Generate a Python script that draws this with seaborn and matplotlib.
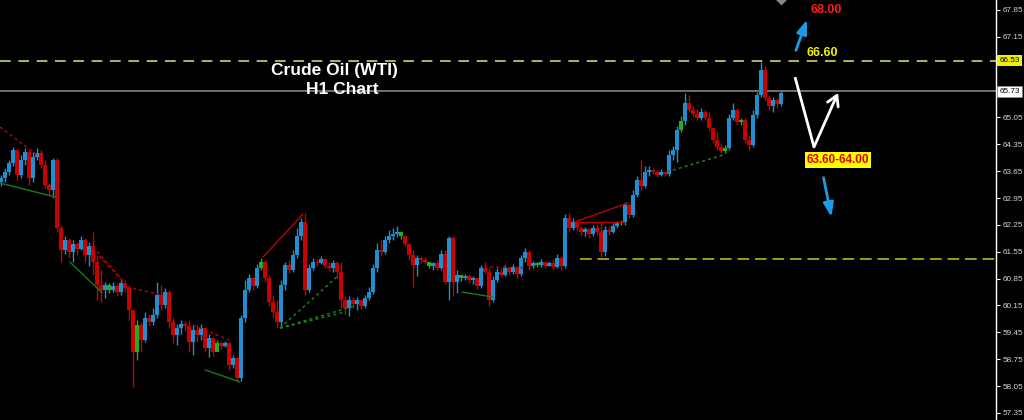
import pandas as pd
import seaborn as sns
import matplotlib.pyplot as plt
import matplotlib.transforms as mtransforms

# --- price data (H1 candles) ---
first_open = 63.37
close = [63.47, 63.63, 63.86, 64.20, 63.55, 63.94, 64.15, 63.47, 64.02, 64.12,
         63.81, 63.29, 63.16, 63.94, 62.17, 61.60, 61.86, 61.54, 61.75, 61.62,
         61.86, 61.47, 61.70, 61.28, 60.68, 60.55, 60.68, 60.55, 60.66, 60.50,
         60.74, 60.61, 60.03, 58.94, 59.64, 59.25, 59.82, 59.72, 59.90, 60.42,
         60.16, 60.50, 59.72, 59.38, 59.56, 59.67, 59.62, 59.20, 59.51, 59.38,
         59.56, 59.04, 59.30, 58.94, 59.17, 59.09, 59.17, 58.60, 58.78, 58.26,
         59.82, 60.55, 60.87, 60.66, 61.13, 61.28, 60.87, 60.24, 59.98, 59.72,
         60.68, 61.20, 61.07, 61.47, 61.96, 62.33, 60.55, 61.13, 61.28, 61.26,
         61.36, 61.18, 61.13, 61.26, 61.02, 60.29, 60.08, 60.29, 60.19, 60.29,
         60.14, 60.34, 60.50, 61.13, 61.60, 61.54, 61.86, 61.96, 62.01, 62.06,
         61.96, 61.75, 61.47, 61.20, 61.39, 61.33, 61.28, 61.18, 61.26, 61.13,
         61.49, 60.76, 61.91, 60.76, 60.94, 60.87, 60.92, 60.81, 60.87, 60.66,
         61.13, 61.02, 60.29, 60.81, 61.02, 60.94, 61.13, 61.02, 61.15, 60.97,
         61.39, 61.54, 61.18, 61.26, 61.20, 61.28, 61.18, 61.26, 61.15, 61.39,
         61.18, 62.43, 62.17, 62.33, 62.17, 62.06, 62.14, 62.01, 62.17, 62.06,
         61.54, 62.12, 62.06, 62.22, 62.30, 62.33, 62.77, 62.51, 63.03, 63.42,
         63.26, 63.63, 63.68, 63.63, 63.55, 63.63, 63.58, 64.07, 64.20, 64.72,
         64.96, 65.43, 65.24, 65.14, 65.04, 65.19, 65.04, 64.77, 64.46, 64.28,
         64.18, 64.25, 65.04, 65.24, 64.93, 64.98, 64.46, 64.33, 65.11, 65.63,
         66.29, 65.56, 65.35, 65.50, 65.40, 65.69]
high = [63.55, 63.73, 63.94, 64.28, 64.20, 64.07, 64.25, 64.20, 64.15, 64.25,
        64.20, 63.94, 63.34, 63.99, 63.99, 62.25, 61.96, 61.91, 61.86, 61.80,
        61.96, 61.91, 61.80, 62.06, 61.47, 61.07, 60.76, 60.74, 60.76, 60.71,
        60.81, 60.81, 60.68, 59.90, 59.77, 59.72, 59.98, 59.93, 60.08, 60.76,
        60.68, 60.61, 60.55, 59.82, 59.67, 59.77, 59.75, 59.77, 59.64, 59.64,
        59.67, 59.51, 59.41, 59.33, 59.25, 59.22, 59.22, 59.20, 58.86, 58.81,
        59.90, 60.81, 60.97, 60.89, 61.23, 61.39, 61.33, 60.94, 60.42, 60.29,
        60.81, 61.28, 61.33, 61.60, 62.17, 62.43, 62.56, 61.23, 61.39, 61.36,
        61.44, 61.39, 61.28, 61.33, 61.31, 61.28, 60.40, 60.40, 60.37, 60.37,
        60.29, 60.42, 60.63, 61.23, 61.78, 61.86, 61.96, 62.12, 62.17, 62.22,
        62.04, 61.99, 61.78, 61.60, 61.47, 61.44, 61.41, 61.28, 61.28, 61.33,
        61.60, 61.60, 61.96, 61.96, 61.07, 60.97, 60.97, 60.97, 60.92, 60.87,
        61.20, 61.28, 61.13, 60.92, 61.13, 61.13, 61.20, 61.15, 61.23, 61.18,
        61.47, 61.65, 61.60, 61.31, 61.28, 61.36, 61.31, 61.31, 61.36, 61.49,
        61.44, 62.53, 62.56, 62.43, 62.33, 62.22, 62.19, 62.17, 62.25, 62.27,
        62.33, 62.22, 62.22, 62.30, 62.35, 62.38, 62.85, 62.82, 63.16, 63.52,
        63.94, 63.78, 63.78, 63.73, 63.68, 63.71, 63.65, 64.20, 64.31, 64.83,
        65.09, 65.69, 65.63, 65.35, 65.27, 65.30, 65.24, 65.19, 64.77, 64.67,
        64.38, 64.33, 65.14, 65.43, 65.30, 65.04, 65.04, 64.59, 65.24, 65.71,
        66.49, 66.39, 65.63, 65.58, 65.56, 65.74]
low = [63.26, 63.37, 63.55, 63.78, 63.42, 63.47, 63.81, 63.29, 63.37, 63.94,
       63.73, 63.21, 63.00, 62.95, 62.06, 61.28, 61.49, 61.39, 61.28, 61.47,
       61.60, 61.28, 61.18, 60.94, 60.29, 60.24, 60.34, 60.48, 60.50, 60.40,
       60.42, 60.50, 59.77, 58.03, 58.73, 58.94, 59.20, 59.62, 59.64, 59.82,
       60.03, 60.08, 59.56, 59.17, 59.12, 59.41, 59.48, 58.94, 58.86, 59.20,
       59.25, 58.94, 58.81, 58.83, 59.04, 59.02, 59.07, 58.47, 58.52, 58.16,
       58.18, 59.72, 60.50, 60.55, 60.61, 61.07, 60.76, 60.14, 59.82, 59.56,
       59.56, 60.55, 61.00, 61.02, 61.39, 61.86, 60.42, 60.50, 61.07, 61.18,
       61.23, 61.13, 61.05, 61.02, 60.87, 60.08, 59.93, 59.88, 60.08, 60.03,
       60.06, 60.08, 60.29, 60.45, 61.02, 61.44, 61.49, 61.78, 61.86, 61.93,
       61.88, 61.70, 61.33, 60.63, 60.92, 61.26, 61.23, 61.13, 61.07, 61.07,
       61.07, 60.71, 60.29, 60.40, 60.48, 60.79, 60.81, 60.74, 60.71, 60.58,
       60.61, 60.97, 60.14, 60.24, 60.76, 60.89, 60.92, 60.94, 60.97, 60.87,
       60.92, 61.28, 61.07, 61.13, 61.15, 61.15, 61.13, 61.18, 61.10, 61.13,
       61.07, 61.13, 62.06, 62.12, 62.09, 61.96, 61.96, 61.91, 61.96, 61.99,
       61.41, 61.44, 61.99, 62.04, 62.17, 62.25, 62.25, 62.43, 62.46, 62.98,
       63.16, 63.21, 63.52, 63.58, 63.50, 63.52, 63.52, 63.52, 63.94, 63.89,
       64.67, 64.85, 65.19, 65.06, 64.98, 64.98, 64.98, 64.70, 64.38, 64.20,
       64.12, 64.12, 64.20, 64.98, 64.85, 64.85, 64.38, 64.20, 64.28, 65.04,
       65.58, 65.50, 65.24, 65.19, 65.30, 65.35]
green_bars = [27, 34, 54, 65, 100, 107, 115, 134, 155, 170, 181, 185]

# --- levels and axis ---
tick_prices = [67.85, 67.15, 66.45, 65.75, 65.05, 64.35, 63.65, 62.95,
               62.25, 61.55, 60.85, 60.15, 59.45, 58.75, 58.05, 57.35]
resistance_level = 66.53
last_price = 65.73
support_level = 61.36
support_start = 144.75

# --- drawn trend lines: (bar, price) pairs ---
red_dotted = [[(-0.25, 64.80), (9, 64.07)],
              [(23, 61.67), (31, 60.74)],
              [(24.5, 61.44), (30, 60.84)],
              [(31.5, 60.63), (40.5, 60.42)],
              [(48, 59.64), (57, 59.25)],
              [(122.25, 61.15), (131, 61.13)]]
red_solid = [[(65.5, 61.41), (75.5, 62.53)],
             [(143.5, 62.33), (156.75, 62.82)],
             [(143.5, 62.33), (155.5, 62.33)]]
green_solid = [[(-0.25, 63.34), (13.5, 62.98)],
               [(17.25, 61.28), (25.25, 60.48)],
               [(51, 58.47), (59.75, 58.16)],
               [(115.25, 60.50), (123, 60.37)]]
green_dotted = [[(69.75, 59.56), (84.25, 60.92)],
                [(69.75, 59.56), (88.5, 60.14)],
                [(69.75, 59.56), (86, 59.98)],
                [(166.5, 63.63), (180.5, 64.07)]]

# --- forecast annotations ---
target_up = "68.00"
target_up_pos = (206.25, 67.85)
level_mid = "66.60"
level_mid_pos = (205.25, 66.73)
zone_low = "63.60-64.00"
zone_low_pos = (209.25, 63.94)
blue_up_arrow = [(198.5, 66.73), (201.75, 67.67)]
blue_down_arrow = [(205.5, 63.55), (207.75, 62.38)]
white_path = [(198.5, 66.10), (203.25, 64.28), (209.25, 65.69)]

# --- build candle table ---
df = pd.DataFrame({'close': close, 'high': high, 'low': low})
df['bar'] = range(len(df))
df['open'] = [first_open] + close[:-1]
df['color'] = ['#1f8fcf' if c >= o else '#c80000' for o, c in zip(df['open'], df['close'])]
df.loc[green_bars, 'color'] = '#1fb01f'
df['bottom'] = df[['open', 'close']].min(axis=1)
df['body'] = (df['close'] - df['open']).abs().clip(lower=0.025)

sns.set_theme(style="dark", rc={'axes.facecolor': 'black', 'figure.facecolor': 'black'})
plt.rcParams['font.family'] = ['Liberation Sans', 'DejaVu Sans']

fig = plt.figure(figsize=(10.24, 4.20), dpi=100)
ax = fig.add_axes([0, 0, 996 / 1024, 1])
ax.set_xlim(-0.25, 248.75)
ax.set_ylim(57.165, 68.11)

# horizontal levels
ax.axhline(resistance_level, color='#e2e27a', lw=1.1, dashes=(7, 5), zorder=1)
ax.axhline(last_price, color='#6c7075', lw=1.4, zorder=1)
ax.hlines(support_level, support_start, 248.75, color='#9c9c14', lw=1.4,
          linestyles=[(0, (6, 3))], zorder=1)

# candles
ax.vlines(df['bar'], df['low'], df['high'], colors=df['color'], lw=1.0, zorder=2)
ax.bar(df['bar'], df['body'], bottom=df['bottom'], width=0.78, color=df['color'], linewidth=0, zorder=2)


def draw_lines(segments, color, style, lw):
    for seg in segments:
        seg_df = pd.DataFrame(seg, columns=['bar', 'price'])
        sns.lineplot(data=seg_df, x='bar', y='price', ax=ax, color=color, lw=lw,
                     linestyle=style, sort=False, estimator=None, zorder=3)


draw_lines(red_dotted, '#b40000', (0, (2, 2)), 1.1)
draw_lines(red_solid, '#c00000', '-', 1.0)
draw_lines(green_solid, '#1a7a1a', '-', 1.0)
draw_lines(green_dotted, '#1a7f1a', (0, (2, 2)), 1.1)

# forecast arrows
ax.annotate('', xy=blue_up_arrow[1], xytext=blue_up_arrow[0],
            arrowprops=dict(arrowstyle='-|>,head_length=0.7,head_width=0.25', color='#1b9be6', lw=2))
ax.annotate('', xy=blue_down_arrow[1], xytext=blue_down_arrow[0],
            arrowprops=dict(arrowstyle='-|>,head_length=0.7,head_width=0.25', color='#1b9be6', lw=2))
ax.plot([p[0] for p in white_path[:2]], [p[1] for p in white_path[:2]], color='white', lw=2,
        solid_capstyle='butt')
ax.annotate('', xy=white_path[2], xytext=white_path[1],
            arrowprops=dict(arrowstyle='->,head_length=0.6,head_width=0.35', color='white', lw=2,
                            shrinkA=0, shrinkB=0))
ax.plot(195, 68.16, marker='D', ms=6, color='#7d8796', clip_on=True)

ax.text(*target_up_pos, target_up, color='#ff1a1a', fontsize=9, fontweight='bold', ha='center', va='center')
ax.text(*level_mid_pos, level_mid, color='#f2f200', fontsize=9, fontweight='bold', ha='center', va='center')
ax.text(*zone_low_pos, zone_low, color='#e60000', fontsize=8.5, fontweight='bold', ha='center', va='center',
        bbox=dict(boxstyle='square,pad=0.15', fc='#ffff00', ec='none'))

# title
ax.text(334.5 / 996, 1 - 71 / 420, 'Crude Oil (WTI)', transform=ax.transAxes, color='white',
        fontsize=12.5, fontweight='bold', ha='center', va='center')
ax.text(342 / 996, 1 - 89.5 / 420, 'H1 Chart', transform=ax.transAxes, color='white',
        fontsize=12.5, fontweight='bold', ha='center', va='center')

# right price axis (labels under the 66.53 / 65.73 tags are hidden there)
covered = [66.45, 65.75]
ax.grid(False)
ax.set_xticks([])
ax.yaxis.tick_right()
ax.set_yticks(tick_prices)
ax.set_yticklabels(['' if p in covered else f'{p:.2f}' for p in tick_prices])
ax.tick_params(axis='y', colors='white', labelcolor='#d4d4d4', labelsize=5.9, length=3, width=0.8, pad=1.5)
for side in ['top', 'bottom', 'left']:
    ax.spines[side].set_visible(False)
ax.spines['right'].set_color('white')
ax.spines['right'].set_linewidth(1.0)

trans = mtransforms.blended_transform_factory(ax.transAxes, ax.transData)
ax.text(1.0035, resistance_level, f'{resistance_level:.2f}', transform=trans, fontsize=5.9, color='black',
        ha='left', va='center', clip_on=False, bbox=dict(boxstyle='square,pad=0.25', fc='#f0f000', ec='none'))
ax.text(1.0035, last_price, f'{last_price:.2f}', transform=trans, fontsize=5.9, color='black',
        ha='left', va='center', clip_on=False, bbox=dict(boxstyle='square,pad=0.25', fc='white', ec='#909090', lw=0.5))
ax.set_xlabel('')
ax.set_ylabel('')

fig.savefig('out.png', dpi=100, facecolor='black')
